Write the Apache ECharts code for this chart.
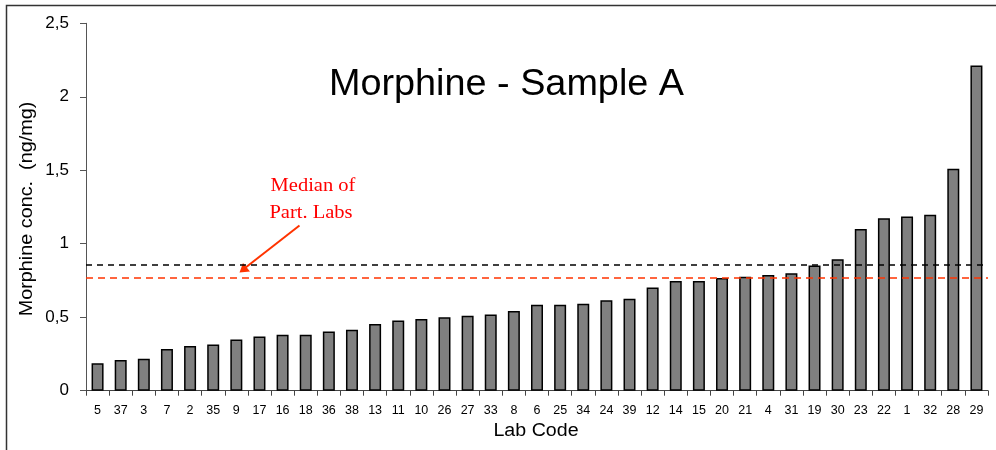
<!DOCTYPE html>
<html>
<head>
<meta charset="utf-8">
<script src="https://cdn.jsdelivr.net/npm/echarts@6/dist/echarts.min.js"></script>
<style>
html,body{margin:0;padding:0;background:#fff;}
#chart{width:996px;height:450px;}
</style>
</head>
<body>
<div id="chart"></div>
<script>
const labCodes = ['5','37','3','7','2','35','9','17','16','18','36','38','13','11','10','26','27','33','8','6','25','34','24','39','12','14','15','20','21','4','31','19','30','23','22','1','32','28','29'];
const morphineValues = [0.186,0.209,0.218,0.284,0.304,0.315,0.349,0.369,0.381,0.381,0.403,0.415,0.454,0.478,0.488,0.499,0.510,0.519,0.542,0.585,0.585,0.592,0.615,0.626,0.703,0.746,0.746,0.767,0.776,0.787,0.799,0.852,0.894,1.101,1.173,1.185,1.197,1.510,2.213];
const referenceLine = 0.861;
const medianLine = 0.765;
const yTicks = [0, 0.5, 1, 1.5, 2, 2.5];

const chart = echarts.init(document.getElementById('chart'), null, {renderer: 'canvas'});
const font = '"Liberation Sans", Arial, sans-serif';

chart.setOption({
  animation: false,
  backgroundColor: '#ffffff',
  grid: {left: 86, right: 8, top: 23.3, bottom: 59.3, containLabel: false, outerBoundsMode: 'none'},
  xAxis: {
    type: 'category',
    data: labCodes,
    boundaryGap: true,
    axisLine: {lineStyle: {color: '#444', width: 1}},
    axisTick: {show: true, alignWithLabel: false, length: 5, lineStyle: {color: '#444'}},
    axisLabel: {interval: 0, color: '#000', fontFamily: font, fontSize: 12.5, margin: 13}
  },
  yAxis: {
    type: 'value',
    min: yTicks[0],
    max: yTicks[yTicks.length - 1],
    interval: 0.5,
    splitLine: {show: false},
    axisLine: {show: true, lineStyle: {color: '#555', width: 1}},
    axisTick: {show: true, length: 6, lineStyle: {color: '#555'}},
    axisLabel: {
      color: '#000', fontFamily: font, fontSize: 17, margin: 17,
      formatter: v => String(v).replace('.', ',')
    }
  },
  series: [{
    type: 'bar',
    data: morphineValues,
    barWidth: 12,
    itemStyle: {color: '#808080', borderColor: '#000', borderWidth: 1.5},
    markLine: {
      silent: true,
      symbol: 'none',
      label: {show: false},
      data: [
        {yAxis: referenceLine, lineStyle: {color: '#000', type: [6, 5], width: 1.5}},
        {yAxis: medianLine, lineStyle: {color: '#FF3300', type: [7, 5], width: 1.5}}
      ]
    }
  }],
  graphic: [
    {type: 'rect', shape: {x: 6.5, y: 5.5, width: 1000, height: 500}, style: {fill: 'none', stroke: '#333', lineWidth: 1.5}, silent: true},
    {type: 'text', x: 506.5, y: 103, scaleX: 1.05,
      style: {text: 'Morphine - Sample A', font: '36px ' + font, fill: '#000', textAlign: 'center', textVerticalAlign: 'bottom'}},
    {type: 'text', x: 536, y: 440.5, scaleX: 1.09,
      style: {text: 'Lab Code', font: '18px ' + font, fill: '#000', textAlign: 'center', textVerticalAlign: 'bottom'}},
    {type: 'text', x: 27, y: 209, rotation: Math.PI / 2, scaleX: 1.1,
      style: {text: 'Morphine conc.  (ng/mg)', font: '18px ' + font, fill: '#000', textAlign: 'center', textVerticalAlign: 'middle'}},
    {type: 'text', x: 313, y: 186, scaleX: 1.08,
      style: {text: 'Median of', font: '19px "Liberation Serif", "Times New Roman", serif', fill: '#FF0000', textAlign: 'center', textVerticalAlign: 'middle'}},
    {type: 'text', x: 311, y: 213, scaleX: 1.08,
      style: {text: 'Part. Labs', font: '19px "Liberation Serif", "Times New Roman", serif', fill: '#FF0000', textAlign: 'center', textVerticalAlign: 'middle'}},
    {type: 'line', shape: {x1: 299.5, y1: 225.5, x2: 245, y2: 268}, style: {stroke: '#FF3300', lineWidth: 2}},
    {type: 'polygon', shape: {points: [[239.5, 272.5], [243, 263], [250, 271.5]]}, style: {fill: '#FF3300'}}
  ]
});
</script>
</body>
</html>
